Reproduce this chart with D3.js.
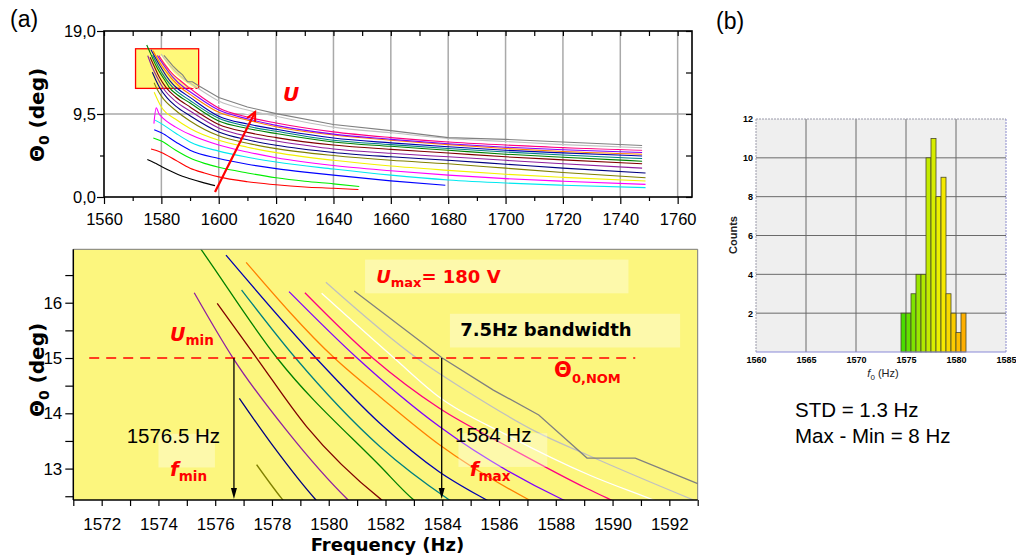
<!DOCTYPE html>
<html><head><meta charset="utf-8">
<script src="https://cdn.jsdelivr.net/npm/d3@7"></script>
<style>body{margin:0;background:#fff}svg{display:block}</style>
</head><body>
<svg id="c" width="1016" height="560"></svg>
<script>
// ================= DATA =================
// Top panel axis ticks
const topXTicks = [1560,1580,1600,1620,1640,1660,1680,1700,1720,1740,1760];
const topXMinorTicks = [1570,1590,1610,1630,1650,1670,1690,1710,1730,1750];
const topYTicks = [0, 9.5, 19];
const topYTickLabels = ["0,0","9,5","19,0"];
const topYMinorTicks = [4.75, 14.25];
// Zoomed panel ticks
const zoomXTicks = [1572,1574,1576,1578,1580,1582,1584,1586,1588,1590,1592];
const zoomXMinorTicks = [1571,1573,1575,1577,1579,1581,1583,1585,1587,1589,1591,1593];
const zoomYTicks = [13,14,15,16];
const zoomYMinorTicks = [12.5,13.5,14.5,15.5,16.5];
const zoomFreqRange = [1571, 1593];
const zoomThetaRange = [12.432, 16.966];

// Curves: [frequency (Hz), Theta0 (deg)], lowest U first
const curveBlack = [[1575.1,4.3],[1576.5,4.1],[1578,3.85],[1580,3.5],[1583,3.0],[1586,2.55],[1590,2.1],[1594,1.7],[1598.7,1.3]];
const curveRed = [[1576.4,5.5],[1578,5.35],[1580,5.1],[1585,4.2],[1590,3.3],[1595,2.75],[1600,2.3],[1610,1.75],[1620,1.4],[1630,1.15],[1640,1.0],[1648.7,0.85]];
const curveGreen = [[1577.2,6.75],[1580,6.4],[1585,5.35],[1590,4.45],[1595,3.85],[1600,3.4],[1610,2.75],[1620,2.2],[1630,1.8],[1640,1.5],[1649,1.2]];
const curveBlue = [[1577.5,7.7],[1580,7.35],[1585,6.3],[1590,5.35],[1600,4.4],[1610,3.75],[1620,3.25],[1630,2.85],[1640,2.5],[1660,1.85],[1679,1.34]];
const curveCyan = [[1577.8,8.8],[1580,8.4],[1585,7.3],[1590,6.3],[1600,5.25],[1610,4.55],[1620,4.0],[1640,3.2],[1660,2.5],[1680,1.95],[1700,1.6],[1720,1.35],[1748.8,1.07]];
const curveMagenta = [[1577.4,8.4],[1578.2,10.2],[1579.2,9.5],[1580,9.2],[1585,8.0],[1590,7.15],[1600,5.95],[1610,5.15],[1620,4.5],[1640,3.6],[1660,3.0],[1680,2.5],[1700,2.1],[1720,1.8],[1748.8,1.45]];
const curveYellow = [[1577.5,12.0],[1580,10.3],[1585,8.9],[1590,7.85],[1600,6.5],[1610,5.7],[1620,5.08],[1640,4.2],[1660,3.55],[1680,3.05],[1700,2.6],[1720,2.25],[1748.8,1.83]];
const curveDarkYellow = [[1577.46,13.07],[1578.34,12.46],[1580,11.55],[1585,9.9],[1590,8.7],[1600,7.0],[1610,6.15],[1620,5.54],[1640,4.75],[1660,4.2],[1680,3.8],[1700,3.3],[1720,2.8],[1748.8,2.2]];
const curveNavy = [[1576.85,14.27],[1578.05,13.4],[1579.52,12.45],[1582,11.35],[1585,10.4],[1590,9.3],[1600,7.45],[1610,6.55],[1620,5.92],[1640,5.1],[1660,4.6],[1680,4.2],[1700,3.75],[1720,3.3],[1748.8,2.75]];
const curvePurple = [[1575.26,16.18],[1576.64,14.99],[1578.5,13.7],[1580.65,12.45],[1585,10.95],[1590,9.85],[1600,7.9],[1610,6.95],[1620,6.41],[1640,5.5],[1660,5.0],[1680,4.6],[1700,4.2],[1720,3.8],[1747.6,3.3]];
const curveWine = [[1576.07,15.99],[1577.46,15.0],[1579.22,13.76],[1581.87,12.43],[1585,11.45],[1590,10.3],[1600,8.3],[1610,7.4],[1620,6.8],[1640,5.95],[1660,5.45],[1680,5.04],[1700,4.6],[1720,4.25],[1747.6,3.8]];
const curveOlive = [[1574.9,17.4],[1575.52,16.95],[1578.18,15.0],[1581.8,13.05],[1583.0,12.43],[1585,11.85],[1590,10.75],[1600,8.7],[1610,7.85],[1620,7.26],[1640,6.3],[1660,5.8],[1680,5.35],[1700,4.9],[1720,4.55],[1747.6,4.1]];
const curveDarkCyan = [[1576.93,16.23],[1578.83,15.0],[1581.8,13.4],[1584.2,12.45],[1590,11.05],[1600,9.0],[1610,8.1],[1620,7.52],[1640,6.5],[1660,6.0],[1680,5.55],[1700,5.15],[1720,4.8],[1747.6,4.4]];
const curveRoyal = [[1576.38,16.86],[1579.55,15.0],[1581.8,13.82],[1583.9,12.94],[1585.5,12.45],[1590,11.4],[1600,9.25],[1610,8.35],[1620,7.75],[1640,6.75],[1660,6.2],[1680,5.75],[1700,5.35],[1720,5.05],[1747.6,4.7]];
const curveOrange = [[1577.09,16.73],[1580.2,15.0],[1581.8,14.3],[1583.9,13.43],[1587.0,12.45],[1590,11.75],[1600,9.7],[1610,8.8],[1620,8.05],[1640,7.1],[1660,6.5],[1680,6.0],[1700,5.55],[1720,5.2],[1747.6,4.9]];
const curveViolet = [[1578.6,16.2],[1581.0,15.0],[1583.9,13.76],[1588.2,12.45],[1590,12.05],[1600,9.95],[1610,8.95],[1620,8.2],[1640,7.2],[1660,6.6],[1680,6.1],[1700,5.7],[1720,5.4],[1747.6,5.1]];
const curvePink = [[1579.16,16.18],[1581.55,15.0],[1583.9,14.09],[1586.3,13.4],[1589.1,12.64],[1590,12.42],[1600,10.2],[1610,9.15],[1620,8.47],[1640,7.45],[1660,6.8],[1680,6.3],[1700,5.95],[1720,5.65],[1747.6,5.35]];
const curveWhite = [[1579.75,16.17],[1582.3,15.0],[1583.9,14.29],[1586.3,13.6],[1589.2,12.88],[1591.4,12.44],[1600,10.6],[1610,9.55],[1620,8.85],[1640,7.75],[1660,7.1],[1680,6.5],[1700,6.15],[1720,5.8],[1747.6,5.5]];
const curveLtGray = [[1579.9,16.37],[1583.1,15.0],[1584.9,14.39],[1587.3,13.67],[1589.1,13.25],[1593.0,12.4],[1600,11.0],[1610,9.95],[1620,9.24],[1640,8.0],[1660,7.35],[1680,6.7],[1700,6.35],[1720,6.0],[1747.6,5.65]];
const curveGray = [[1580.9,16.21],[1584.0,15.0],[1585.8,14.42],[1587.4,13.97],[1589.1,13.19],[1590.8,13.19],[1593.0,12.73],[1600,11.4],[1610,10.3],[1620,9.54],[1640,8.3],[1660,7.6],[1680,6.8],[1700,6.6],[1720,6.3],[1747.6,5.9]];

const seriesData = [curveBlack,curveRed,curveGreen,curveBlue,curveCyan,curveMagenta,curveYellow,curveDarkYellow,curveNavy,curvePurple,curveWine,curveOlive,curveDarkCyan,curveRoyal,curveOrange,curveViolet,curvePink,curveWhite,curveLtGray,curveGray];
const seriesColors = ["#000000","#ff0000","#00ee00","#0000ff","#00e8f0","#ff00ff","#f2f200","#808000","#000080","#9020a0","#800000","#008000","#008080","#0000b0","#ff8000","#8000ff","#ff0080","#ffffff","#c0c0c0","#808080"];
const seriesLinear = [false,false,false,false,false,false,false,false,false,false,false,false,false,false,false,false,false,false,false,true];

// Annotation values
const thetaNom = 15.0;
const fMin = 1576.66, fMax = 1583.98;
const uArrow = [[1598.7,0.57],[1612.7,9.73]];

// Histogram (b)
const histBins = [1574.5,1575,1575.5,1576,1576.5,1577,1577.5,1578,1578.5,1579,1579.5,1580,1580.5];
const histCounts = [2,2,3,4,4,10,11,8,9,3,2,1,2];
const histBinWidth = 0.5;
const histXTicks = [1560,1565,1570,1575,1580,1585];
const histYTicks = [2,4,6,8,10,12];

// ================= DRAW =================
const svg = d3.select("#c");
const SANS = "Liberation Sans, Arial, sans-serif";
const BOLD = "DejaVu Sans, Verdana, sans-serif";
const RED = "#ff0000";

function cleanAxis(g, fs, fam, weight) {
  g.attr("font-size", fs).attr("font-family", fam).attr("font-weight", weight || "normal");
  g.select(".domain").remove();
  g.selectAll(".tick line").attr("stroke", "#000").attr("stroke-width", 1.2);
  g.selectAll(".tick text").attr("fill", "#000");
}

// ---------- TOP PANEL ----------
const T = {l:104, r:692, t:31, b:197};
const xT = d3.scaleLinear().domain([1560,1765]).range([T.l,T.r]);
const yT = d3.scaleLinear().domain([0,19]).range([T.b,T.t]);
const gT = svg.append("g");

gT.selectAll(".gx").data(topXTicks.filter(d => xT(d) > T.l + 1)).join("line")
  .attr("x1", d => xT(d)).attr("x2", d => xT(d)).attr("y1", T.t).attr("y2", T.b)
  .attr("stroke", "#a9a9a9").attr("stroke-width", 1.5);
gT.selectAll(".gy").data(topYTicks.filter(d => d > 0 && d < 19)).join("line")
  .attr("x1", T.l).attr("x2", T.r).attr("y1", d => yT(d)).attr("y2", d => yT(d))
  .attr("stroke", "#a9a9a9").attr("stroke-width", 1.5);

// zoom rectangle
gT.append("rect")
  .attr("x", xT(zoomFreqRange[0])).attr("y", yT(zoomThetaRange[1]))
  .attr("width", xT(zoomFreqRange[1]) - xT(zoomFreqRange[0]))
  .attr("height", yT(zoomThetaRange[0]) - yT(zoomThetaRange[1]))
  .attr("fill", "#fff97a").attr("stroke", RED).attr("stroke-width", 1.3);

const clipT = svg.append("clipPath").attr("id","clipT").append("rect")
  .attr("x", T.l).attr("y", T.t).attr("width", T.r - T.l).attr("height", T.b - T.t);
const lineT = (d, lin) => d3.line().x(p => xT(p[0])).y(p => yT(p[1])).curve(lin ? d3.curveLinear : d3.curveMonotoneX)(d);
gT.append("g").attr("clip-path","url(#clipT)").selectAll("path").data(seriesData).join("path")
  .attr("d", (d,i) => lineT(d, seriesLinear[i])).attr("fill","none")
  .attr("stroke", (d,i) => seriesColors[i]).attr("stroke-width", 1.1);

// frame
gT.append("rect").attr("x",T.l).attr("y",T.t).attr("width",T.r-T.l).attr("height",T.b-T.t)
  .attr("fill","none").attr("stroke","#000").attr("stroke-width",1.6);

// axes
cleanAxis(gT.append("g").attr("transform",`translate(0,${T.b})`)
  .call(d3.axisBottom(xT).tickValues(topXTicks).tickSize(7).tickPadding(9).tickFormat(d3.format("d"))), 16.5, SANS);
cleanAxis(gT.append("g").attr("transform",`translate(0,${T.b})`)
  .call(d3.axisBottom(xT).tickValues(topXMinorTicks).tickSize(4).tickFormat("")), 10, SANS);
cleanAxis(gT.append("g").attr("transform",`translate(0,${T.t})`)
  .call(d3.axisTop(xT).tickValues(topXMinorTicks.concat(topXTicks)).tickSize(-5).tickFormat("")), 10, SANS);
cleanAxis(gT.append("g").attr("transform",`translate(${T.l},0)`)
  .call(d3.axisLeft(yT).tickValues(topYTicks).tickSize(7).tickPadding(1).tickFormat((d,i) => topYTickLabels[i])), 16.5, SANS);
cleanAxis(gT.append("g").attr("transform",`translate(${T.l},0)`)
  .call(d3.axisLeft(yT).tickValues(topYMinorTicks).tickSize(4).tickFormat("")), 10, SANS);
cleanAxis(gT.append("g").attr("transform",`translate(${T.r},0)`)
  .call(d3.axisRight(yT).tickValues(topYMinorTicks.concat(topYTicks)).tickSize(-6).tickFormat("")), 10, SANS);

// U arrow
const defs = svg.append("defs");
defs.append("marker").attr("id","openArrow").attr("viewBox","-10 -6 12 12").attr("refX",0).attr("refY",0)
  .attr("markerWidth",12).attr("markerHeight",12).attr("markerUnits","userSpaceOnUse").attr("orient","auto")
  .append("path").attr("d","M-9,-4.5 L0,0 L-9,4.5").attr("fill","none").attr("stroke",RED).attr("stroke-width",2);
gT.append("line").attr("x1",xT(uArrow[0][0])).attr("y1",yT(uArrow[0][1]))
  .attr("x2",xT(uArrow[1][0])).attr("y2",yT(uArrow[1][1]))
  .attr("stroke",RED).attr("stroke-width",2.2).attr("marker-end","url(#openArrow)");
gT.append("text").attr("x",xT(1622.4)).attr("y",yT(10.95)).text("U")
  .attr("font-family",BOLD).attr("font-weight","bold").attr("font-style","italic").attr("font-size",20).attr("fill",RED);

// Y label (top)
function thetaLabel(cx, cy) {
  const t = svg.append("text").attr("transform",`translate(${cx},${cy}) rotate(-90)`)
    .attr("text-anchor","middle").attr("font-family",BOLD).attr("font-weight","bold").attr("font-size",20).attr("fill","#000");
  t.append("tspan").text("Θ");
  t.append("tspan").attr("font-size",14).attr("dy",5).text("0");
  t.append("tspan").attr("dy",-5).text(" (deg)");
}
thetaLabel(44, 115);

// ---------- ZOOM PANEL ----------
const Z = {l:73.3, r:697.7, t:249.3, b:500};
const xZ = d3.scaleLinear().domain(zoomFreqRange).range([Z.l,Z.r]);
const yZ = d3.scaleLinear().domain(zoomThetaRange).range([Z.b,Z.t]);
const gZ = svg.append("g");
gZ.append("rect").attr("x",Z.l).attr("y",Z.t).attr("width",Z.r-Z.l).attr("height",Z.b-Z.t).attr("fill","#fcf67e");

svg.append("clipPath").attr("id","clipZ").append("rect")
  .attr("x", Z.l).attr("y", Z.t).attr("width", Z.r - Z.l).attr("height", Z.b - Z.t);
const lineZ = (d, lin) => d3.line().x(p => xZ(p[0])).y(p => yZ(p[1])).curve(lin ? d3.curveLinear : d3.curveMonotoneX)(d.filter(p => p[0] < 1610));
gZ.append("g").attr("clip-path","url(#clipZ)").selectAll("path").data(seriesData).join("path")
  .attr("d", (d,i) => lineZ(d, seriesLinear[i])).attr("fill","none")
  .attr("stroke", (d,i) => seriesColors[i]).attr("stroke-width", 1.3);

// label boxes (light overlay)
const boxes = [[1581.28,1590.56,16.78,16.17],[1584.27,1592.38,15.8,15.19],[1574.0,1575.99,13.63,13.02],[1584.57,1587.7,13.64,13.03]];
gZ.selectAll(".box").data(boxes).join("rect")
  .attr("x", d => xZ(d[0])).attr("y", d => yZ(d[2]))
  .attr("width", d => xZ(d[1]) - xZ(d[0])).attr("height", d => yZ(d[3]) - yZ(d[2]))
  .attr("fill","#ffffff").attr("fill-opacity",0.35);

// nominal dashed line
gZ.append("line").attr("x1",xZ(1571.56)).attr("x2",xZ(1590.8)).attr("y1",yZ(thetaNom)).attr("y2",yZ(thetaNom))
  .attr("stroke",RED).attr("stroke-width",1.5).attr("stroke-dasharray","10,7");

// fmin / fmax arrows
[fMin, fMax].forEach(f => {
  const x = xZ(f), y0 = yZ(thetaNom), y1 = yZ(zoomThetaRange[0]) - 1;
  gZ.append("line").attr("x1",x).attr("x2",x).attr("y1",y0).attr("y2",y1-10).attr("stroke","#000").attr("stroke-width",1.3);
  gZ.append("path").attr("d",`M${x-3},${y1-11} L${x+3},${y1-11} L${x},${y1} Z`).attr("fill","#000");
});

// frame
gZ.append("line").attr("x1",Z.l).attr("x2",Z.r).attr("y1",Z.t).attr("y2",Z.t).attr("stroke","#7a7a7a").attr("stroke-width",1);
gZ.append("line").attr("x1",Z.r).attr("x2",Z.r).attr("y1",Z.t).attr("y2",Z.b).attr("stroke","#7a7a7a").attr("stroke-width",1);
gZ.append("line").attr("x1",Z.l).attr("x2",Z.r).attr("y1",Z.b).attr("y2",Z.b).attr("stroke","#000").attr("stroke-width",1.5);
gZ.append("line").attr("x1",Z.l).attr("x2",Z.l).attr("y1",Z.t).attr("y2",Z.b).attr("stroke","#000").attr("stroke-width",1.5);

cleanAxis(gZ.append("g").attr("transform",`translate(0,${Z.b})`)
  .call(d3.axisBottom(xZ).tickValues(zoomXTicks).tickSize(6).tickPadding(12).tickFormat(d3.format("d"))), 17, SANS);
cleanAxis(gZ.append("g").attr("transform",`translate(0,${Z.b})`)
  .call(d3.axisBottom(xZ).tickValues(zoomXMinorTicks).tickSize(6).tickFormat("")), 10, SANS);
cleanAxis(gZ.append("g").attr("transform",`translate(${Z.l},0)`)
  .call(d3.axisLeft(yZ).tickValues(zoomYTicks).tickSize(8).tickPadding(3).tickFormat(d3.format("d"))), 17, SANS);
cleanAxis(gZ.append("g").attr("transform",`translate(${Z.l},0)`)
  .call(d3.axisLeft(yZ).tickValues(zoomYMinorTicks).tickSize(8).tickFormat("")), 10, SANS);

// annotations
function subText(g, f, th, main, sub, opts) {
  const t = g.append("text").attr("x", xZ(f)).attr("y", yZ(th))
    .attr("font-family", BOLD).attr("font-weight","bold").attr("fill", opts.color).attr("font-size", opts.fs);
  t.append("tspan").attr("font-style", opts.italic ? "italic" : "normal").text(main);
  t.append("tspan").attr("font-size", opts.sfs).attr("dy", opts.dy).text(sub);
  if (opts.tail) t.append("tspan").attr("dy", -opts.dy).text(opts.tail);
  return t;
}
subText(gZ, 1581.67, 16.36, "U", "max", {color:RED, fs:18, sfs:13, dy:4, italic:true, tail:"= 180 V"});
subText(gZ, 1574.41, 15.31, "U", "min", {color:RED, fs:19, sfs:13.5, dy:4, italic:true});
subText(gZ, 1574.41, 12.86, "f", "min", {color:RED, fs:20, sfs:13.5, dy:5, italic:true});
subText(gZ, 1584.97, 12.86, "f", "max", {color:RED, fs:20, sfs:13.5, dy:5, italic:true});
subText(gZ, 1587.94, 14.66, "Θ", "0,NOM", {color:RED, fs:21, sfs:13, dy:6, italic:false});
gZ.append("text").attr("x",xZ(1584.63)).attr("y",yZ(15.39)).text("7.5Hz bandwidth")
  .attr("font-family",BOLD).attr("font-weight","bold").attr("font-size",18).attr("fill","#000");
gZ.append("text").attr("x",xZ(1572.88)).attr("y",yZ(13.46)).text("1576.5 Hz")
  .attr("font-family",SANS).attr("font-size",20.5).attr("fill","#000");
gZ.append("text").attr("x",xZ(1584.45)).attr("y",yZ(13.48)).text("1584 Hz")
  .attr("font-family",SANS).attr("font-size",20.5).attr("fill","#000");

thetaLabel(44, 370);
svg.append("text").attr("x",(Z.l+Z.r)/2 + 2).attr("y",551).attr("text-anchor","middle").text("Frequency (Hz)")
  .attr("font-family",BOLD).attr("font-weight","bold").attr("font-size",18).attr("fill","#000");

svg.append("text").attr("x",10).attr("y",27).text("(a)").attr("font-family",SANS).attr("font-size",23).attr("fill","#000");
svg.append("text").attr("x",716).attr("y",29).text("(b)").attr("font-family",SANS).attr("font-size",23).attr("fill","#000");

// ---------- HISTOGRAM ----------
const H = {l:756, r:1006, t:119, b:352};
const xH = d3.scaleLinear().domain([1560,1585]).range([H.l,H.r]);
const yH = d3.scaleLinear().domain([0,12]).range([H.b,H.t]);
const gH = svg.append("g");
gH.append("rect").attr("x",H.l).attr("y",H.t).attr("width",H.r-H.l).attr("height",H.b-H.t).attr("fill","#efefef");
gH.selectAll(".hx").data(histXTicks.filter(d => d > 1560 && d < 1585)).join("line")
  .attr("x1",d=>xH(d)).attr("x2",d=>xH(d)).attr("y1",H.t).attr("y2",H.b).attr("stroke","#6a6a6a").attr("stroke-width",1);
gH.selectAll(".hy").data(histYTicks.filter(d => d < 12)).join("line")
  .attr("x1",H.l).attr("x2",H.r).attr("y1",d=>yH(d)).attr("y2",d=>yH(d)).attr("stroke","#6a6a6a").attr("stroke-width",1);
const barColor = d3.scaleLinear().domain([1574.5,1576.5,1578.5,1581]).range(["#3cdb00","#a6e800","#f4f000","#ffa800"]);
gH.selectAll(".bar").data(histBins).join("rect")
  .attr("x", d => xH(d)).attr("width", d => xH(d + histBinWidth) - xH(d))
  .attr("y", (d,i) => yH(histCounts[i])).attr("height", (d,i) => yH(0) - yH(histCounts[i]))
  .attr("fill", d => barColor(d + histBinWidth/2)).attr("stroke","#4a4a2a").attr("stroke-width",0.8);
// border
gH.append("line").attr("x1",H.l).attr("x2",H.r).attr("y1",H.t).attr("y2",H.t).attr("stroke","#9a9aaa").attr("stroke-dasharray","2,1");
gH.append("line").attr("x1",H.r).attr("x2",H.r).attr("y1",H.t).attr("y2",H.b).attr("stroke","#8a8acc").attr("stroke-dasharray","2,1");
gH.append("line").attr("x1",H.l).attr("x2",H.l).attr("y1",H.t).attr("y2",H.b).attr("stroke","#9a9aaa").attr("stroke-dasharray","2,1");
gH.append("line").attr("x1",H.l).attr("x2",H.r).attr("y1",H.b).attr("y2",H.b).attr("stroke","#8a8ad8").attr("stroke-width",1.2);

cleanAxis(gH.append("g").attr("transform",`translate(0,${H.b})`)
  .call(d3.axisBottom(xH).tickValues(histXTicks).tickSize(0).tickPadding(5).tickFormat(d3.format("d"))), 9, SANS, "bold");
cleanAxis(gH.append("g").attr("transform",`translate(${H.l},0)`)
  .call(d3.axisLeft(yH).tickValues(histYTicks).tickSize(0).tickPadding(3).tickFormat(d3.format("d"))), 9, SANS, "bold");
gH.append("text").attr("transform",`translate(737,235) rotate(-90)`).attr("text-anchor","middle").text("Counts")
  .attr("font-family",SANS).attr("font-weight","bold").attr("font-size",11).attr("fill","#222");
const fl = gH.append("text").attr("x",883).attr("y",377).attr("text-anchor","middle")
  .attr("font-family",SANS).attr("font-size",11).attr("fill","#222");
fl.append("tspan").attr("font-style","italic").text("f");
fl.append("tspan").attr("font-size",8).attr("dy",3).text("0");
fl.append("tspan").attr("dy",-3).text(" (Hz)");

svg.append("text").attr("x",795).attr("y",417).text("STD = 1.3 Hz").attr("font-family",SANS).attr("font-size",20.5).attr("fill","#000");
svg.append("text").attr("x",795).attr("y",443).text("Max - Min = 8 Hz").attr("font-family",SANS).attr("font-size",20.5).attr("fill","#000");
</script>
</body></html>
